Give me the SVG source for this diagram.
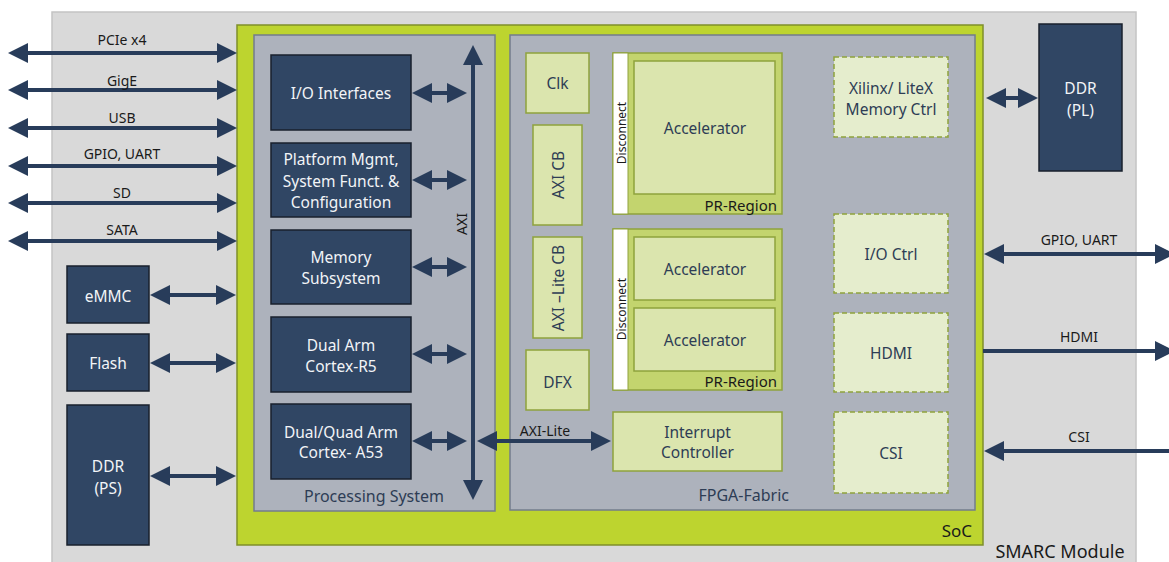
<svg xmlns="http://www.w3.org/2000/svg" width="1169" height="562" viewBox="0 0 1169 562">
  <defs>
    <marker id="ah" viewBox="0 0 20 20" markerWidth="20" markerHeight="20" markerUnits="userSpaceOnUse" refX="10" refY="10" orient="auto-start-reverse">
      <path d="M0,0 L20,10 L0,20 z" fill="#283c5a"/>
    </marker>
    <style>
      text { font-family: "Noto Sans", "Open Sans", sans-serif; dominant-baseline: central; text-anchor: middle; }
      .module { fill: #d9d9d9; stroke: #c4c4c4; stroke-width: 1.5; }
      .soc { fill: #bdd42f; stroke: #7f8f2a; stroke-width: 1.5; }
      .sub { fill: #adb2bc; stroke: #737c8c; stroke-width: 1.5; }
      .dark { fill: #304664; stroke: #18202c; stroke-width: 1.5; }
      .light { fill: #dbe5ae; stroke: #8fa23c; stroke-width: 1.5; }
      .dashed { fill: #e5edcd; stroke: #8fa23c; stroke-width: 1.5; stroke-dasharray: 5 3; }
      .pr { fill: #c3d46e; stroke: #8fa23c; stroke-width: 1.5; }
      .strip { fill: #ffffff; stroke: #8fa23c; stroke-width: 1; }
      .wt { fill: #f2f4f7; font-size: 15.5px; }
      .dt { fill: #2e3d55; font-size: 15.5px; }
      .lbl { fill: #1a1a1a; font-size: 14px; }
      .cap { fill: #2e3d55; font-size: 16px; }
      .small { fill: #1a1a1a; font-size: 12px; }
      .prl { fill: #1a1a1a; font-size: 15px; text-anchor: end; }
      .conn line { stroke: #283c5a; stroke-width: 4; fill: none; }
    </style>
  </defs>

  <!-- carrier module -->
  <g id="smarc-module">
    <rect class="module" x="52" y="12" width="1084" height="560"/>
    <text x="1060" y="551" style="fill:#1a1a1a;font-size:18px">SMARC Module</text>
  </g>

  <!-- SoC -->
  <g id="soc">
    <rect class="soc" x="237" y="25" width="746" height="520"/>
    <text x="972" y="530" style="fill:#1a1a1a;font-size:17px;text-anchor:end">SoC</text>
  </g>

  <!-- processing system -->
  <g id="processing-system">
    <rect class="sub" x="254" y="35" width="241" height="476"/>
    <text class="cap" x="374" y="496">Processing System</text>
  </g>

  <g id="io-interfaces">
    <rect class="dark" x="271" y="55" width="140" height="75"/>
    <text class="wt" x="341" y="93">I/O Interfaces</text>
  </g>
  <g id="platform-mgmt">
    <rect class="dark" x="271" y="143" width="140" height="74"/>
    <text class="wt" x="341" y="159">Platform Mgmt,</text>
    <text class="wt" x="341" y="180.5">System Funct. &amp;</text>
    <text class="wt" x="341" y="202">Configuration</text>
  </g>
  <g id="memory-subsystem">
    <rect class="dark" x="271" y="230" width="140" height="74"/>
    <text class="wt" x="341" y="257">Memory</text>
    <text class="wt" x="341" y="278">Subsystem</text>
  </g>
  <g id="cortex-r5">
    <rect class="dark" x="271" y="317" width="140" height="75"/>
    <text class="wt" x="341" y="345">Dual Arm</text>
    <text class="wt" x="341" y="366">Cortex-R5</text>
  </g>
  <g id="cortex-a53">
    <rect class="dark" x="271" y="404" width="140" height="75"/>
    <text class="wt" x="341" y="432">Dual/Quad Arm</text>
    <text class="wt" x="341" y="452">Cortex- A53</text>
  </g>

  <!-- programmable logic -->
  <g id="fpga-fabric">
    <rect class="sub" x="510" y="35" width="465" height="475"/>
    <text class="cap" x="789" y="495" style="text-anchor:end">FPGA-Fabric</text>
  </g>

  <g id="clk">
    <rect class="light" x="526" y="53" width="63" height="60"/>
    <text class="dt" x="557.5" y="83">Clk</text>
  </g>
  <g id="axi-cb">
    <rect class="light" x="533" y="125" width="49" height="100"/>
    <text class="dt" transform="translate(557.5,175) rotate(-90)">AXI CB</text>
  </g>
  <g id="axi-lite-cb">
    <rect class="light" x="533" y="237" width="49" height="101"/>
    <text class="dt" transform="translate(557.5,288) rotate(-90)">AXI –Lite CB</text>
  </g>
  <g id="dfx">
    <rect class="light" x="526" y="350" width="63" height="60"/>
    <text class="dt" x="557.5" y="381.5">DFX</text>
  </g>

  <g id="pr-region-1">
    <rect class="pr" x="613" y="53" width="169" height="161"/>
    <rect class="strip" x="613" y="53" width="15" height="161"/>
    <text class="small" transform="translate(621,133) rotate(-90)">Disconnect</text>
    <rect class="light" x="634" y="61" width="141" height="133"/>
    <text class="dt" x="705" y="128">Accelerator</text>
    <text class="prl" x="777" y="204.5">PR-Region</text>
  </g>

  <g id="pr-region-2">
    <rect class="pr" x="613" y="229" width="169" height="161"/>
    <rect class="strip" x="613" y="229" width="15" height="161"/>
    <text class="small" transform="translate(621,309) rotate(-90)">Disconnect</text>
    <rect class="light" x="634" y="237" width="141" height="63"/>
    <text class="dt" x="705" y="269">Accelerator</text>
    <rect class="light" x="634" y="308" width="141" height="63"/>
    <text class="dt" x="705" y="340">Accelerator</text>
    <text class="prl" x="777" y="380.5">PR-Region</text>
  </g>

  <g id="interrupt-controller">
    <rect class="light" x="613" y="412" width="169" height="59"/>
    <text class="dt" x="697.5" y="431.5">Interrupt</text>
    <text class="dt" x="697.5" y="452">Controller</text>
  </g>

  <g id="memory-ctrl">
    <rect class="dashed" x="834" y="57" width="114" height="80"/>
    <text class="dt" x="891" y="88">Xilinx/ LiteX</text>
    <text class="dt" x="891" y="109">Memory Ctrl</text>
  </g>
  <g id="io-ctrl">
    <rect class="dashed" x="834" y="214" width="114" height="79"/>
    <text class="dt" x="891" y="254">I/O Ctrl</text>
  </g>
  <g id="hdmi">
    <rect class="dashed" x="834" y="313" width="114" height="79"/>
    <text class="dt" x="891" y="353">HDMI</text>
  </g>
  <g id="csi">
    <rect class="dashed" x="834" y="412" width="114" height="81"/>
    <text class="dt" x="891" y="453">CSI</text>
  </g>

  <!-- on-module memories -->
  <g id="emmc">
    <rect class="dark" x="67" y="266" width="82" height="57"/>
    <text class="wt" x="108" y="295.5">eMMC</text>
  </g>
  <g id="flash">
    <rect class="dark" x="67" y="334" width="82" height="57"/>
    <text class="wt" x="108" y="362.5">Flash</text>
  </g>
  <g id="ddr-ps">
    <rect class="dark" x="67" y="405" width="82" height="140"/>
    <text class="wt" x="108" y="466">DDR</text>
    <text class="wt" x="108" y="487.5">(PS)</text>
  </g>
  <g id="ddr-pl">
    <rect class="dark" x="1039" y="24" width="83" height="147"/>
    <text class="wt" x="1080.5" y="88">DDR</text>
    <text class="wt" x="1080.5" y="110">(PL)</text>
  </g>

  <!-- connectors -->
  <g id="connectors" class="conn">
    <!-- edge interfaces, left -->
    <line x1="18" y1="53" x2="227" y2="53" marker-start="url(#ah)" marker-end="url(#ah)"/>
    <line x1="18" y1="90" x2="227" y2="90" marker-start="url(#ah)" marker-end="url(#ah)"/>
    <line x1="18" y1="128" x2="227" y2="128" marker-start="url(#ah)" marker-end="url(#ah)"/>
    <line x1="18" y1="166" x2="227" y2="166" marker-start="url(#ah)" marker-end="url(#ah)"/>
    <line x1="18" y1="203" x2="227" y2="203" marker-start="url(#ah)" marker-end="url(#ah)"/>
    <line x1="18" y1="241" x2="227" y2="241" marker-start="url(#ah)" marker-end="url(#ah)"/>
    <!-- memories to SoC -->
    <line x1="160" y1="295" x2="226" y2="295" marker-start="url(#ah)" marker-end="url(#ah)"/>
    <line x1="160" y1="363" x2="226" y2="363" marker-start="url(#ah)" marker-end="url(#ah)"/>
    <line x1="160" y1="476" x2="226" y2="476" marker-start="url(#ah)" marker-end="url(#ah)"/>
    <!-- AXI bus -->
    <line x1="473" y1="55" x2="473" y2="490" marker-start="url(#ah)" marker-end="url(#ah)"/>
    <!-- PS blocks to AXI -->
    <line x1="422" y1="93" x2="457" y2="93" marker-start="url(#ah)" marker-end="url(#ah)"/>
    <line x1="422" y1="180" x2="457" y2="180" marker-start="url(#ah)" marker-end="url(#ah)"/>
    <line x1="422" y1="267" x2="457" y2="267" marker-start="url(#ah)" marker-end="url(#ah)"/>
    <line x1="422" y1="354" x2="457" y2="354" marker-start="url(#ah)" marker-end="url(#ah)"/>
    <line x1="422" y1="441" x2="457" y2="441" marker-start="url(#ah)" marker-end="url(#ah)"/>
    <!-- AXI-Lite to interrupt controller -->
    <line x1="487" y1="441" x2="601" y2="441" marker-start="url(#ah)" marker-end="url(#ah)"/>
    <!-- PL memory -->
    <line x1="996" y1="98" x2="1028" y2="98" marker-start="url(#ah)" marker-end="url(#ah)"/>
    <!-- edge interfaces, right -->
    <line x1="994" y1="254" x2="1165" y2="254" marker-start="url(#ah)" marker-end="url(#ah)"/>
    <line x1="983" y1="351" x2="1165" y2="351" marker-end="url(#ah)"/>
    <line x1="1172" y1="451" x2="994" y2="451" marker-end="url(#ah)"/>
  </g>

  <!-- connector labels -->
  <g id="connector-labels">
    <text class="lbl" x="122" y="39">PCIe x4</text>
    <text class="lbl" x="122" y="80">GigE</text>
    <text class="lbl" x="122" y="117">USB</text>
    <text class="lbl" x="122" y="153">GPIO, UART</text>
    <text class="lbl" x="122" y="192">SD</text>
    <text class="lbl" x="122" y="229">SATA</text>
    <text class="lbl" transform="translate(461,224) rotate(-90)">AXI</text>
    <text class="lbl" x="545" y="430">AXI-Lite</text>
    <text class="lbl" x="1079" y="239">GPIO, UART</text>
    <text class="lbl" x="1079" y="336">HDMI</text>
    <text class="lbl" x="1079" y="436">CSI</text>
  </g>
</svg>
